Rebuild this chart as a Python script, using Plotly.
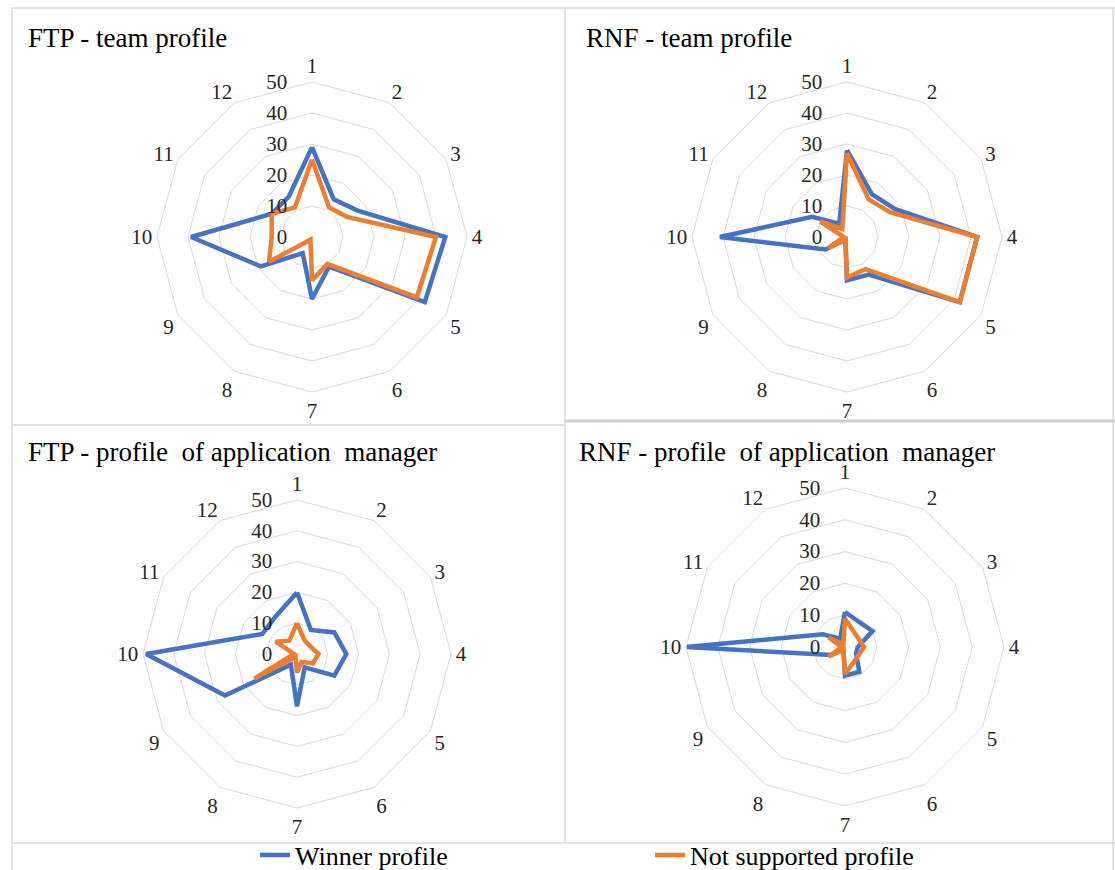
import plotly.graph_objects as go

categories = [str(i) for i in range(1, 13)]

# FTP - team profile
ftp_team_winner = [29, 14, 17, 43, 42, 11, 20, 6, 19, 39, 15, 15]
ftp_team_notsup = [25, 11, 13, 40, 39, 10, 14, 1, 16, 13, 15, 11]
# RNF - team profile
rnf_team_winner = [28, 16, 18, 42, 42, 14, 14, 1, 8, 41, 13, 5]
rnf_team_notsup = [27, 14, 16, 42, 42, 12, 13, 1, 7, 1, 10, 3]
# FTP - profile of application manager
ftp_mgr_winner = [20, 9, 14, 16, 14, 5, 17, 4, 27, 49, 13, 14]
ftp_mgr_notsup = [10, 5, 5, 7, 6, 3, 6, 1, 16, 1, 8, 5]
# RNF - profile of application manager
rnf_mgr_winner = [11, 9, 10, 4, 4, 9, 9, 1, 5, 50, 8, 3]
rnf_mgr_notsup = [9, 5.5, 5, 6, 5, 5.5, 8.5, 1, 6, 1, 6, 1]

titles = ["FTP - team profile", "RNF - team profile",
          "FTP - profile\u00a0 of application\u00a0 manager",
          "RNF - profile\u00a0 of application\u00a0 manager"]
radial_ticks = [0, 10, 20, 30, 40, 50]
series_names = ["Winner profile", "Not supported profile"]

W, H = 1115, 870
BLUE = "#4472C4"
ORANGE = "#ED7D31"
GRID = "#d9d9d9"
FONT = "Liberation Serif"
NBSP = "\u00a0"

# radial labels sit a little to the left of the vertical axis
radial_ticktext = [str(v) + NBSP * 4 for v in radial_ticks]

panels = [
    (ftp_team_winner, ftp_team_notsup, (312, 237, 155)),
    (rnf_team_winner, rnf_team_notsup, (847, 237, 155)),
    (ftp_mgr_winner, ftp_mgr_notsup, (297, 654, 154)),
    (rnf_mgr_winner, rnf_mgr_notsup, (845, 647, 159)),
]

fig = go.Figure()
layout_polars = {}
for i, (win, ns, (cx, cy, r)) in enumerate(panels):
    pname = "polar" if i == 0 else f"polar{i+1}"
    for vals, color, name in [(win, BLUE, series_names[0]), (ns, ORANGE, series_names[1])]:
        fig.add_trace(go.Scatterpolar(
            r=vals + vals[:1], theta=categories + categories[:1],
            mode="lines", line=dict(color=color, width=4.5),
            name=name, legendgroup=name, showlegend=(i == 0),
            subplot=pname, hoverinfo="skip"))
    layout_polars[pname] = dict(
        domain=dict(x=[(cx - r) / W, (cx + r) / W], y=[1 - (cy + r) / H, 1 - (cy - r) / H]),
        gridshape="linear",
        bgcolor="rgba(0,0,0,0)",
        radialaxis=dict(range=[0, 50], tickvals=radial_ticks, ticktext=radial_ticktext,
                        angle=90, tickangle=90,
                        side="counterclockwise", showline=False, ticks="",
                        gridcolor=GRID, gridwidth=1,
                        tickfont=dict(family=FONT, size=21, color="#262626")),
        angularaxis=dict(categoryarray=categories, type="category", rotation=90,
                         direction="clockwise", showgrid=False, showline=True,
                         linecolor=GRID, linewidth=1, ticks="",
                         tickfont=dict(family=FONT, size=21, color="#262626")),
    )

fig.update_layout(**layout_polars)

title_pos = [(26, 38), (584, 38), (26, 452), (577, 452)]
for t, (x, y) in zip(titles, title_pos):
    fig.add_annotation(text=t, x=x / W, y=1 - y / H, xref="paper", yref="paper",
                       xanchor="left", yanchor="middle", showarrow=False,
                       font=dict(family=FONT, size=27, color="#000000"))

def hline(y, x0, x1, color=GRID, width=1.5):
    fig.add_shape(type="line", xref="paper", yref="paper",
                  x0=x0 / W, x1=x1 / W, y0=1 - y / H, y1=1 - y / H,
                  line=dict(color=color, width=width))

def vline(x, y0, y1, color=GRID, width=1.5):
    fig.add_shape(type="line", xref="paper", yref="paper",
                  x0=x / W, x1=x / W, y0=1 - y0 / H, y1=1 - y1 / H,
                  line=dict(color=color, width=width))

hline(8, 12, 1115)
vline(12, 8, 870)
vline(1113, 8, 870)
vline(565, 8, 843)
hline(425, 12, 565)
hline(421, 565, 1115, color="#cfcfcf", width=3)
hline(843, 12, 1115)

fig.update_layout(
    width=W, height=H,
    margin=dict(l=0, r=0, t=0, b=0, autoexpand=False),
    paper_bgcolor="white", plot_bgcolor="white",
    showlegend=True,
    legend=dict(orientation="h", x=255 / W, xanchor="left", y=1 - 855 / H, yanchor="middle",
                entrywidth=350, entrywidthmode="pixels",
                font=dict(family=FONT, size=26, color="#000000"),
                bgcolor="rgba(0,0,0,0)", itemwidth=30),
)

fig.write_html("out.html", config={"displayModeBar": False},
               post_script="document.body.style.margin='0px';")
